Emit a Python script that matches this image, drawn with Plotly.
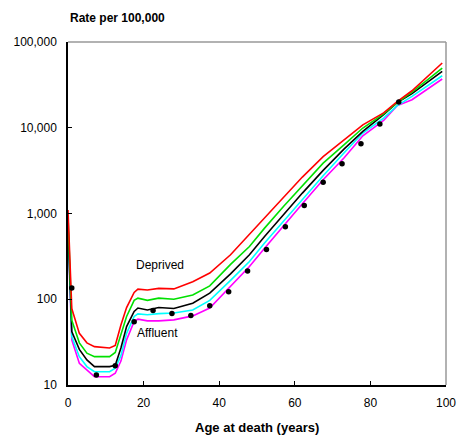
import plotly.graph_objects as go

ages = [0, 1, 3, 5, 7, 11, 12.5, 14, 15.5, 17.5, 18.5, 21, 24, 28, 33, 37.5,
        43, 48, 52, 57, 62, 67.5, 73, 78, 83.5, 87, 91, 99]

deprived = [1100, 78, 40, 31, 28, 27, 29, 50, 80, 120, 131, 128, 134, 132, 160, 202,
            330, 570, 890, 1510, 2660, 4600, 7250, 10800, 14900, 20000, 27000, 56900]
quint2 = [920, 57, 31, 23.5, 21.4, 21.4, 24, 38, 63, 97, 103, 97, 103, 100, 112, 143,
          255, 412, 675, 1208, 2100, 3870, 6330, 9930, 14500, 19500, 26000, 49700]
quint3 = [740, 42, 26, 19.6, 16.4, 16.4, 17, 27, 48, 72, 79, 75, 80, 78, 90, 118,
          198, 330, 539, 966, 1730, 3180, 5640, 9060, 14180, 19500, 25000, 45400]
quint4 = [680, 36.7, 21.4, 16.4, 14.3, 14.3, 15.7, 22, 40, 63, 67.6, 66, 68, 69, 75, 97,
          166, 275, 452, 807, 1472, 2754, 5070, 8670, 12970, 18000, 23200, 40400]
affluent = [660, 33.6, 17.9, 15, 12.5, 12.5, 13.7, 19, 33.6, 55, 58.6, 56, 56, 57.5, 64, 79,
            140, 241, 394, 705, 1297, 2472, 4430, 8070, 12170, 18000, 21230, 37000]

dot_ages = [1, 7.5, 12.5, 17.5, 22.5, 27.5, 32.5, 37.5, 42.5, 47.5, 52.5, 57.5,
            62.5, 67.5, 72.5, 77.5, 82.5, 87.5]
dot_rates = [135, 13.1, 16.8, 54.5, 74, 68, 64.5, 84, 122, 213, 380, 700,
             1240, 2320, 3800, 6510, 11040, 19950]

y_tickvals = [10, 100, 1000, 10000, 100000]
y_ticktext = ["10", "100", "1,000", "10,000", "100,000"]
x_tickvals = [0, 20, 40, 60, 80, 100]

series = [
    ("Deprived", deprived, "#ff0000"),
    ("Quintile 2", quint2, "#00e000"),
    ("Quintile 3", quint3, "#000000"),
    ("Quintile 4", quint4, "#00ffff"),
    ("Affluent", affluent, "#ff00ff"),
]

FONT = "Liberation Sans, Arial, sans-serif"

fig = go.Figure()
for name, vals, col in reversed(series):
    fig.add_trace(go.Scatter(x=ages, y=vals, mode="lines", name=name,
                             line=dict(color=col, width=1.6), showlegend=False))
fig.add_trace(go.Scatter(x=dot_ages, y=dot_rates, mode="markers", name="All",
                         marker=dict(color="#000000", size=5.5), showlegend=False))

fig.add_annotation(x=24.3, y=2.40, xref="x", yref="y", text="Deprived", showarrow=False,
                   font=dict(family=FONT, size=12, color="#000"))
fig.add_annotation(x=23.7, y=1.61, xref="x", yref="y", text="Affluent", showarrow=False,
                   font=dict(family=FONT, size=12, color="#000"))
fig.add_annotation(x=0, y=1, xref="paper", yref="paper", yshift=24, xanchor="left",
                   yanchor="middle", text="<b>Rate per 100,000</b>", showarrow=False,
                   font=dict(family=FONT, size=12, color="#000"))
fig.add_annotation(x=0.5, y=0, xref="paper", yref="paper", yshift=-42, xanchor="center",
                   yanchor="middle", text="<b>Age at death (years)</b>", showarrow=False,
                   font=dict(family=FONT, size=13, color="#000"))

# grey top and right frame
fig.add_shape(type="line", xref="paper", yref="paper", x0=0, x1=1, y0=1, y1=1,
              line=dict(color="#999999", width=1.5))
fig.add_shape(type="line", xref="paper", yref="paper", x0=1, x1=1, y0=0, y1=1,
              line=dict(color="#999999", width=1.5))

fig.update_layout(
    width=457, height=438,
    margin=dict(l=68, r=11, t=42, b=53),
    paper_bgcolor="white", plot_bgcolor="white",
    font=dict(family=FONT, size=12, color="#000"),
    xaxis=dict(range=[0, 100], tickvals=x_tickvals, ticks="inside", ticklen=4,
               tickcolor="#000", showline=True, linecolor="#000", linewidth=1.5,
               showgrid=False, zeroline=False, ticklabelstandoff=6, automargin=False),
    yaxis=dict(type="log", range=[1, 5], tickvals=y_tickvals, ticktext=y_ticktext,
               ticks="inside", ticklen=4, tickcolor="#000", showline=True,
               linecolor="#000", linewidth=1.5, showgrid=False, zeroline=False,
               ticklabelstandoff=7, automargin=False),
)

fig.write_html("out.html",
               config={"displayModeBar": False},
               post_script="document.body.style.margin='0';"
                           "document.body.style.overflow='hidden';")
